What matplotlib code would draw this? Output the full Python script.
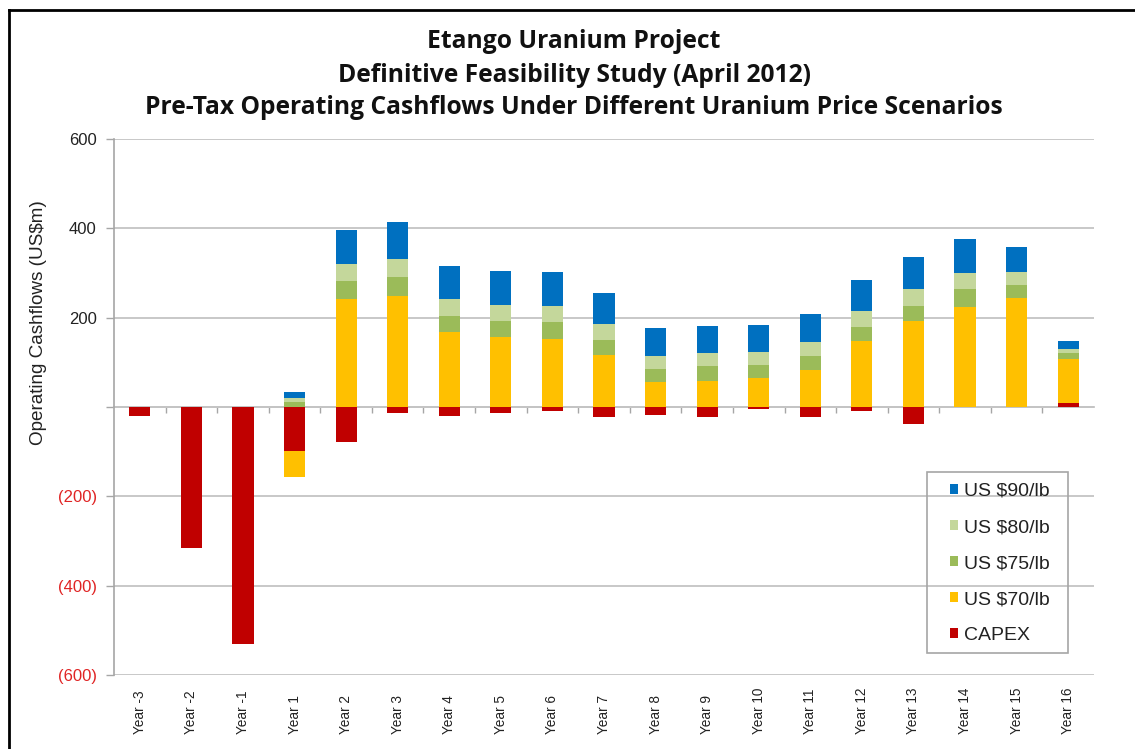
import numpy as np
import matplotlib
matplotlib.use("Agg")
import matplotlib.pyplot as plt
from matplotlib.lines import Line2D
from matplotlib.patches import Rectangle

# ---- data (US$m) ----
years = ["Year -3", "Year -2", "Year -1", "Year 1", "Year 2", "Year 3", "Year 4",
         "Year 5", "Year 6", "Year 7", "Year 8", "Year 9", "Year 10", "Year 11",
         "Year 12", "Year 13", "Year 14", "Year 15", "Year 16"]
capex = [-20, -315, -530, -99, -78, -13, -20, -14, -8, -22, -18, -22, -5, -22, -10, -39, 0, 0, 8]
us70 = [0, 0, 0, -57, 242, 248, 167, 157, 152, 117, 55, 59, 64, 83, 147, 192, 225, 244, 99]
us75 = [0, 0, 0, 12, 39, 42, 37, 36, 38, 34, 30, 32, 30, 32, 33, 35, 39, 30, 13]
us80 = [0, 0, 0, 8, 39, 42, 38, 36, 37, 35, 30, 30, 30, 31, 35, 37, 37, 29, 9]
us90 = [0, 0, 0, 14, 76, 83, 73, 76, 75, 70, 61, 61, 60, 62, 69, 71, 76, 55, 18]

series = [("CAPEX", capex, "#C00000"),
          ("US $70/lb", us70, "#FFC000"),
          ("US $75/lb", us75, "#9BBB59"),
          ("US $80/lb", us80, "#C4D79B"),
          ("US $90/lb", us90, "#0070C0")]

yticks = [-600, -400, -200, 0, 200, 400, 600]
ytick_labels = ["(600)", "(400)", "(200)", "", "200", "400", "600"]

W, H = 1135, 749
fig = plt.figure(figsize=(W / 100, H / 100), dpi=100)
fig.patch.set_facecolor("white")
ax = fig.add_axes([114 / W, 1 - 675 / H, (1094 - 114) / W, (675 - 139) / H])

x = np.arange(len(years))
pos_b = np.zeros(len(years))
neg_b = np.zeros(len(years))
handles = {}
for name, vals, col in series:
    v = np.array(vals, dtype=float)
    bottom = np.where(v >= 0, pos_b, neg_b)
    b = ax.bar(x, v, width=0.41, bottom=bottom, color=col, edgecolor="none", label=name, zorder=3)
    handles[name] = b
    pos_b = pos_b + np.where(v > 0, v, 0)
    neg_b = neg_b + np.where(v < 0, v, 0)

ax.set_xlim(-0.5, len(years) - 0.5)
ax.set_ylim(-600, 600)

grid_col = "#C4C4C4"
ax.set_yticks(yticks)
ax.set_yticklabels(ytick_labels, family="Liberation Sans", fontsize=12)
for lab, val in zip(ax.get_yticklabels(), yticks):
    lab.set_color("#E02424" if val < 0 else "#222222")
ax.yaxis.grid(True, color=grid_col, linewidth=1.3, zorder=0)
ax.set_axisbelow(True)
ax.tick_params(axis="y", direction="out", length=6, width=1.0, color="#A6A6A6", pad=6.5)

for s in ["top", "right"]:
    ax.spines[s].set_visible(False)
ax.spines["left"].set_color("#A6A6A6")
ax.spines["left"].set_linewidth(1.2)
ax.spines["bottom"].set_position(("data", 0))
ax.spines["bottom"].set_color(grid_col)
ax.spines["bottom"].set_linewidth(1.3)
ax.spines["bottom"].set_zorder(2)
ax.set_xticks(np.arange(0.5, len(years) - 0.5, 1.0))
ax.set_xticklabels([])
ax.tick_params(axis="x", direction="out", length=4, width=1.0, color="#A6A6A6")

for i, lab in enumerate(years):
    ax.text(i, -0.11, lab, transform=ax.get_xaxis_transform(), rotation=90,
            ha="center", va="bottom", fontsize=9.8, family="Liberation Sans", color="#222222")

ax.set_ylabel("Operating Cashflows (US$m)", family="Liberation Sans", fontsize=13.6,
              color="#222222")
ax.yaxis.set_label_coords((47 - 114) / 980, (675 - 323) / 536)

# title
tkw = dict(ha="center", va="center", fontsize=17.7, fontweight="bold", family="Open Sans", color="#111111")
fig.text(574 / W, 1 - 42 / H, "Etango Uranium Project", **tkw)
fig.text(574 / W, 1 - 75 / H, "Definitive Feasibility Study (April 2012)", **tkw)
fig.text(574 / W, 1 - 108 / H, "Pre-Tax Operating Cashflows Under Different Uranium Price Scenarios", **tkw)

# legend (frame drawn separately)
order = ["US $90/lb", "US $80/lb", "US $75/lb", "US $70/lb", "CAPEX"]
leg = ax.legend([handles[n] for n in order], order, loc="upper left",
                bbox_to_anchor=(950 / W, 1 - 483 / H), bbox_transform=fig.transFigure,
                prop={"family": "Liberation Sans", "size": 14}, frameon=False,
                handlelength=0.42, handleheight=0.42, handletextpad=0.3, labelspacing=0.98,
                borderpad=0, borderaxespad=0)
for t in leg.get_texts():
    t.set_color("#222222")
fig.add_artist(Rectangle((927 / W, 1 - 653 / H), (1068 - 927) / W, (653 - 472) / H,
                         transform=fig.transFigure, facecolor="none", edgecolor="#A6A6A6",
                         linewidth=1.2, zorder=5))

# figure border (left and top visible)
fig.add_artist(Line2D([8.5 / W, 8.5 / W], [0, 1 - 10 / H], color="black", linewidth=2.0))
fig.add_artist(Line2D([8.5 / W, 1.0], [1 - 10 / H, 1 - 10 / H], color="black", linewidth=2.0))

fig.savefig("out.png", dpi=100, facecolor="white")
